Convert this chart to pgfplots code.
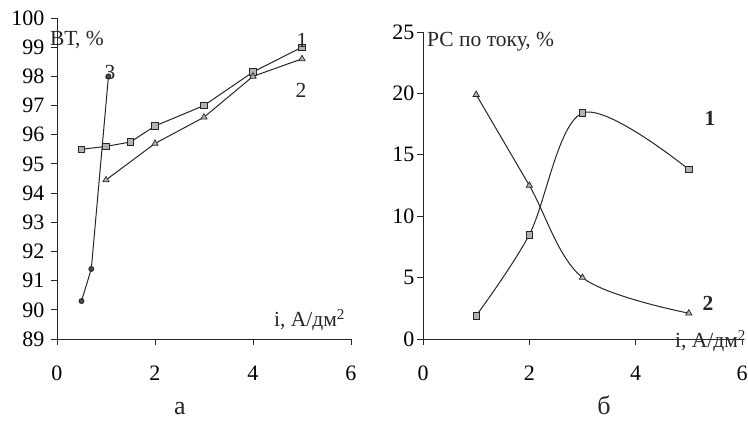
\documentclass[border=0pt]{standalone}
\usepackage{fontspec}
\setmainfont{Liberation Serif}
\usepackage{pgfplots}
\pgfplotsset{compat=1.18}
\begin{document}
\begin{tikzpicture}[x=1pt,y=1pt]
\useasboundingbox (0,0) rectangle (748,423);
\pgfplotsset{
  myax/.style={
    scale only axis, axis lines=left,
    axis line style={-, line width=0.9pt, black!85},
    tick align=outside, major tick length=6pt,
    tick style={black!85, line width=0.9pt},
    ticklabel style={font=\fontsize{22}{26}\selectfont},
    /pgf/number format/assume math mode=true,
    xtick={0,2,4,6}, xmin=0, xmax=6,
    xticklabel style={yshift=-17pt},
    clip=false,
  },
  sq/.style={black!85, line width=1pt, mark=square*, mark size=3.3pt, mark options={fill=gray!60, draw=black!85, line width=0.7pt}},
  tr/.style={black!85, line width=1pt, mark=triangle*, mark size=3.6pt, mark options={fill=gray!60, draw=black!85, line width=0.7pt}},
  dt/.style={black!85, line width=1pt, mark=*, mark size=2.4pt, mark options={fill=black!70, draw=black!85}},
}
\begin{axis}[myax, at={(57pt,84pt)}, anchor=south west, width=294pt, height=321pt,
  ymin=89, ymax=100, ytick={89,90,...,100}, yticklabel style={xshift=-3pt}]
\addplot[sq] coordinates {(0.5,95.5) (1,95.6) (1.5,95.75) (2,96.3) (3,97.0) (4,98.15) (5,99.0)};
\addplot[tr] coordinates {(1,94.45) (2,95.7) (3,96.6) (4,98.0) (5,98.6)};
\addplot[dt] coordinates {(0.5,90.3) (0.7,91.4) (1.05,98.0)};
\end{axis}
\begin{axis}[myax, at={(423pt,84pt)}, anchor=south west, width=319pt, height=307pt,
  ymin=0, ymax=25, ytick={0,5,...,25}, yticklabel style={xshift=1pt}]
\addplot[sq, smooth, tension=0.55] coordinates {(1,1.9) (2,8.5) (3,18.4) (5,13.8)};
\addplot[tr, smooth, tension=0.55] coordinates {(1,19.9) (2,12.5) (3,5.0) (5,2.1)};
\end{axis}
\begin{scope}[every node/.style={font=\fontsize{21.5}{25}\selectfont, inner sep=0pt, text=black!85}]
\node[anchor=west] at (50,383) {ВТ, \%};
\node[anchor=base west] at (274,96) {i, А/дм\textsuperscript{2}};
\node at (302,383) {1};
\node at (301,333) {2};
\node at (110,351) {3};
\node[anchor=west] at (427,381) {РС по току, \%};
\node[anchor=base west] at (675,75) {i, А/дм\textsuperscript{2}};
\node[font=\fontsize{21.5}{25}\selectfont\bfseries] at (710,305) {1};
\node[font=\fontsize{21.5}{25}\selectfont\bfseries] at (708,120) {2};
\node[font=\fontsize{26}{30}\selectfont, anchor=base] at (180,8) {а};
\node[font=\fontsize{26}{30}\selectfont, anchor=base] at (604,8) {б};
\end{scope}
\end{tikzpicture}
\end{document}
